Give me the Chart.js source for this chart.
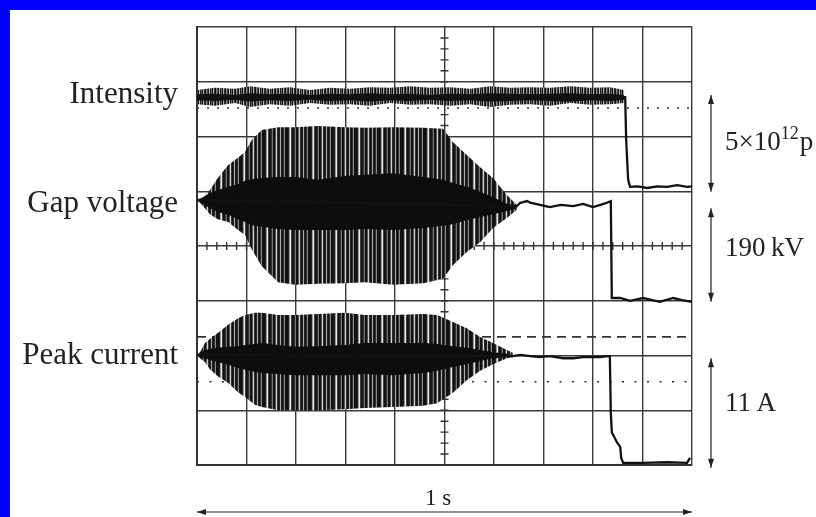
<!DOCTYPE html>
<html>
<head>
<meta charset="utf-8">
<title>Scope trace</title>
<script src="https://cdn.jsdelivr.net/npm/chart.js@4.4.1/dist/chart.umd.min.js"></script>
<style>
  html, body { margin: 0; padding: 0; }
  body { width: 816px; height: 517px; background: #0000ff; overflow: hidden; position: relative; }
  #sheet { position: absolute; left: 10px; top: 10px; width: 806px; height: 507px; background: #fff; }
  #scope { display: block; }
</style>
</head>
<body>
<div id="sheet"><canvas id="scope" width="806" height="507"></canvas></div>
<script>
// time in ms (full screen = 1 s), amplitude in screen divisions (0 = bottom, 8 = top)

// Intensity: noisy band until beam loss, then flat
const intensityT = [0, 36, 77, 107, 147, 188, 228, 269, 309, 349, 390, 430, 471, 511, 552, 592, 632, 673, 713, 754, 794, 834, 863];
const intensityHigh = [6.85, 6.89, 6.87, 6.92, 6.87, 6.90, 6.85, 6.89, 6.87, 6.90, 6.89, 6.92, 6.89, 6.90, 6.87, 6.92, 6.89, 6.90, 6.89, 6.92, 6.89, 6.90, 6.85];
const intensityLow = [6.59, 6.56, 6.61, 6.54, 6.59, 6.56, 6.61, 6.58, 6.59, 6.56, 6.61, 6.58, 6.59, 6.56, 6.59, 6.54, 6.58, 6.59, 6.56, 6.61, 6.58, 6.59, 6.61];
const intensityCoreHigh = [6.77, 6.78, 6.76, 6.79, 6.77, 6.78, 6.76, 6.78, 6.77, 6.79, 6.77, 6.78, 6.76, 6.78, 6.77, 6.79, 6.78, 6.77, 6.78, 6.79, 6.77, 6.78, 6.76];
const intensityCoreLow = [6.66, 6.65, 6.67, 6.64, 6.66, 6.65, 6.67, 6.65, 6.66, 6.64, 6.66, 6.65, 6.67, 6.65, 6.66, 6.64, 6.65, 6.66, 6.65, 6.64, 6.66, 6.65, 6.67];
const intensityTraceT = [0, 863, 865, 867, 871, 875, 890, 910, 930, 950, 970, 990, 1000];
const intensityTrace = [6.72, 6.72, 6.72, 5.94, 5.21, 5.08, 5.09, 5.06, 5.09, 5.08, 5.11, 5.08, 5.09];

// Gap voltage: RF envelope (outer) and dense core
const gapT = [0, 6, 16, 26, 42, 63, 83, 97, 111, 131, 164, 198, 244, 299, 339, 396, 457, 497, 517, 545, 572, 598, 626, 646];
const gapOuterHigh = [4.84, 4.86, 4.91, 5.02, 5.24, 5.48, 5.61, 5.72, 5.94, 6.12, 6.17, 6.17, 6.19, 6.17, 6.16, 6.17, 6.16, 6.14, 5.90, 5.66, 5.44, 5.24, 4.93, 4.75];
const gapOuterLow = [4.82, 4.79, 4.69, 4.58, 4.49, 4.44, 4.29, 4.20, 3.93, 3.63, 3.34, 3.29, 3.31, 3.32, 3.34, 3.29, 3.32, 3.40, 3.65, 3.89, 4.07, 4.33, 4.51, 4.66];
const gapCoreHigh = [4.84, 4.86, 4.91, 4.97, 5.02, 5.08, 5.13, 5.19, 5.22, 5.24, 5.26, 5.26, 5.21, 5.28, 5.30, 5.33, 5.26, 5.21, 5.15, 5.08, 4.99, 4.89, 4.77, 4.73];
const gapCoreLow = [4.82, 4.80, 4.75, 4.69, 4.62, 4.57, 4.49, 4.44, 4.38, 4.35, 4.31, 4.29, 4.29, 4.29, 4.31, 4.29, 4.33, 4.37, 4.40, 4.47, 4.53, 4.58, 4.64, 4.69];
const gapTraceT = [0, 6, 646, 653, 659, 667, 673, 693, 713, 735, 760, 780, 800, 815, 828, 836, 838, 855, 875, 901, 920, 935, 962, 980, 1000];
const gapTrace = [4.84, 4.84, 4.73, 4.79, 4.80, 4.82, 4.79, 4.75, 4.71, 4.75, 4.73, 4.77, 4.71, 4.75, 4.79, 4.82, 3.05, 3.05, 3.00, 3.05, 3.01, 2.98, 3.05, 3.01, 2.98];

// Peak current
const peakT = [0, 6, 16, 26, 42, 63, 83, 97, 117, 131, 164, 198, 244, 299, 339, 396, 457, 485, 517, 545, 572, 598, 626, 638];
const peakOuterHigh = [2.01, 2.06, 2.23, 2.30, 2.41, 2.56, 2.68, 2.74, 2.78, 2.78, 2.74, 2.74, 2.76, 2.78, 2.74, 2.74, 2.76, 2.74, 2.61, 2.50, 2.34, 2.23, 2.10, 2.05];
const peakOuterLow = [1.99, 1.95, 1.88, 1.75, 1.62, 1.50, 1.33, 1.24, 1.10, 1.06, 1.00, 1.00, 1.00, 1.02, 1.04, 1.06, 1.08, 1.13, 1.32, 1.55, 1.72, 1.84, 1.95, 1.97];
const peakCoreHigh = [2.01, 2.05, 2.10, 2.12, 2.14, 2.16, 2.17, 2.19, 2.21, 2.23, 2.19, 2.16, 2.17, 2.19, 2.23, 2.23, 2.23, 2.21, 2.17, 2.14, 2.10, 2.06, 2.03, 2.01];
const peakCoreLow = [1.99, 1.97, 1.95, 1.92, 1.88, 1.83, 1.77, 1.74, 1.70, 1.68, 1.66, 1.64, 1.64, 1.64, 1.66, 1.64, 1.68, 1.72, 1.79, 1.84, 1.90, 1.95, 1.97, 1.99];
const peakTraceT = [0, 6, 638, 653, 673, 693, 713, 740, 760, 780, 814, 830, 834, 836, 838, 848, 855, 857, 861, 900, 950, 990, 996];
const peakTrace = [2.01, 2.01, 1.99, 2.01, 1.99, 1.97, 1.99, 1.95, 1.95, 1.97, 1.97, 1.99, 1.99, 0.95, 0.60, 0.42, 0.33, 0.13, 0.04, 0.04, 0.05, 0.04, 0.13];

// reference levels (divisions)
const intensityRef = 6.52;
const currentRef = 2.34;
const currentZero = 1.52;

// labels
const traceLabels = ['Intensity', 'Gap voltage', 'Peak current'];
const traceLabelLevels = [6.80, 4.80, 2.03];
const scaleBarFrom = [6.76, 4.69, 1.95];
const scaleBarTo = [4.99, 2.98, -0.05];
const scaleBarTextLevels = [5.92, 3.98, 1.15];
const timeSpanLabel = '1 s';

const canvas = document.getElementById('scope');
const ctx = canvas.getContext('2d');

function stripes(cols) {
    const c = document.createElement('canvas');
    c.width = cols.length;
    c.height = 1;
    const g = c.getContext('2d');
    cols.forEach((col, i) => {
        g.fillStyle = col;
        g.fillRect(i, 0, 1, 1);
    });
    return ctx.createPattern(c, 'repeat');
}

const rfPattern = stripes(['#111', '#111', '#222', '#999', '#e8e8e8', '#444', '#111', '#1a1a1a', '#333', '#777', '#111', '#111', '#555', '#d0d0d0', '#333', '#111', '#222', '#aaa', '#222', '#111', '#333', '#888', '#151515']);
const noisePattern = stripes(['#222', '#666', '#111', '#aaa', '#333', '#111', '#888', '#444', '#1a1a1a', '#bbb']);

const pts = (t, v) => t.map((x, i) => ({ x: x, y: v[i] }));
const flat = (level) => [{ x: 0, y: level }, { x: 1000, y: level }];

function edge(t, v, order) {
    return { data: pts(t, v), borderWidth: 0, pointRadius: 0, fill: false, order: order };
}
function fillTo(t, v, bg, order) {
    return { data: pts(t, v), borderWidth: 0, pointRadius: 0, fill: '-1', backgroundColor: bg, order: order };
}
function trace(t, v) {
    return { data: pts(t, v), borderColor: '#111', borderWidth: 2.3, pointRadius: 0, fill: false, order: 2 };
}
function refLine(level, dash) {
    return { data: flat(level), borderColor: '#333', borderWidth: 1.6, borderDash: dash, pointRadius: 0, fill: false, order: 6 };
}

const scopeDecor = {
    id: 'scopeDecor',
    beforeDatasetsDraw(chart) {
        const c = chart.ctx;
        const xs = chart.scales.x, ys = chart.scales.y;
        const cx = xs.getPixelForValue(500), cy = ys.getPixelForValue(4);
        c.save();
        c.strokeStyle = '#333';
        c.lineWidth = 1.4;
        c.beginPath();
        for (let v = 0.2; v < 8; v += 0.2) {
            const py = ys.getPixelForValue(v);
            c.moveTo(cx - 4, py);
            c.lineTo(cx + 4, py);
        }
        for (let t = 20; t < 1000; t += 20) {
            const px = xs.getPixelForValue(t);
            c.moveTo(px, cy - 4);
            c.lineTo(px, cy + 4);
        }
        c.stroke();
        c.restore();
    },
    afterDraw(chart) {
        const c = chart.ctx;
        const area = chart.chartArea;
        const xs = chart.scales.x, ys = chart.scales.y;
        const serif = '"Liberation Serif", "DejaVu Serif", serif';
        c.save();
        c.fillStyle = '#222';
        c.strokeStyle = '#222';

        // trace names
        c.font = '31px ' + serif;
        c.textAlign = 'right';
        c.textBaseline = 'alphabetic';
        traceLabels.forEach((txt, i) => {
            c.fillText(txt, area.left - 19, ys.getPixelForValue(traceLabelLevels[i]) + 10);
        });

        // scale bars on the right
        const barX = area.right + 19;
        scaleBarFrom.forEach((from, i) => {
            vArrow(c, barX, ys.getPixelForValue(from), ys.getPixelForValue(scaleBarTo[i]));
        });
        c.textAlign = 'left';
        const tx = area.right + 33;
        const y0 = ys.getPixelForValue(scaleBarTextLevels[0]) + 9;
        c.font = '27px ' + serif;
        c.fillText('5×10', tx, y0);
        let w = c.measureText('5×10').width;
        c.font = '18px ' + serif;
        c.fillText('12', tx + w, y0 - 11);
        w += c.measureText('12').width;
        c.font = '27px ' + serif;
        c.fillText('p', tx + w + 1, y0);
        c.fillText('190\u2009kV', tx, ys.getPixelForValue(scaleBarTextLevels[1]) + 9);
        c.fillText('11\u2009A', tx, ys.getPixelForValue(scaleBarTextLevels[2]) + 9);

        // time span
        hArrow(c, area.bottom + 47, area.left, area.right);
        c.font = '23px ' + serif;
        c.textAlign = 'center';
        c.fillText(timeSpanLabel, xs.getPixelForValue(487), area.bottom + 40);
        c.restore();
    }
};

function vArrow(c, x, y1, y2) {
    c.lineWidth = 1.2;
    c.beginPath();
    c.moveTo(x, y1);
    c.lineTo(x, y2);
    c.stroke();
    c.beginPath();
    c.moveTo(x, y1); c.lineTo(x - 3, y1 + 9); c.lineTo(x + 3, y1 + 9); c.closePath();
    c.moveTo(x, y2); c.lineTo(x - 3, y2 - 9); c.lineTo(x + 3, y2 - 9); c.closePath();
    c.fill();
}

function hArrow(c, y, x1, x2) {
    c.lineWidth = 1.2;
    c.beginPath();
    c.moveTo(x1, y);
    c.lineTo(x2, y);
    c.stroke();
    c.beginPath();
    c.moveTo(x1, y); c.lineTo(x1 + 9, y - 3); c.lineTo(x1 + 9, y + 3); c.closePath();
    c.moveTo(x2, y); c.lineTo(x2 - 9, y - 3); c.lineTo(x2 - 9, y + 3); c.closePath();
    c.fill();
}

const gridOpts = { color: '#3a3a3a', lineWidth: 1.4, drawTicks: false };

new Chart(canvas, {
    type: 'line',
    data: {
        datasets: [
            edge(gapT, gapOuterHigh, 5),
            fillTo(gapT, gapOuterLow, rfPattern, 5),
            edge(gapT, gapCoreHigh, 4),
            fillTo(gapT, gapCoreLow, '#0d0d0d', 4),
            edge(peakT, peakOuterHigh, 5),
            fillTo(peakT, peakOuterLow, rfPattern, 5),
            edge(peakT, peakCoreHigh, 4),
            fillTo(peakT, peakCoreLow, '#0d0d0d', 4),
            edge(intensityT, intensityHigh, 5),
            fillTo(intensityT, intensityLow, noisePattern, 5),
            edge(intensityT, intensityCoreHigh, 4),
            fillTo(intensityT, intensityCoreLow, '#111', 4),
            trace(intensityTraceT, intensityTrace),
            trace(gapTraceT, gapTrace),
            trace(peakTraceT, peakTrace),
            refLine(intensityRef, [2, 8]),
            refLine(currentRef, [9, 6]),
            refLine(currentZero, [2, 10.5])
        ]
    },
    options: {
        responsive: false,
        animation: false,
        events: [],
        layout: { padding: { left: 187, top: 17, right: 124, bottom: 52 } },
        elements: { line: { tension: 0 } },
        plugins: {
            legend: { display: false },
            tooltip: { enabled: false }
        },
        scales: {
            x: {
                type: 'linear', min: 0, max: 1000,
                ticks: { display: false, stepSize: 100 },
                grid: gridOpts,
                border: { display: true, color: '#333', width: 2 }
            },
            y: {
                type: 'linear', min: 0, max: 8,
                ticks: { display: false, stepSize: 1 },
                grid: gridOpts,
                border: { display: true, color: '#333', width: 2 }
            }
        }
    },
    plugins: [scopeDecor]
});
</script>
</body>
</html>
